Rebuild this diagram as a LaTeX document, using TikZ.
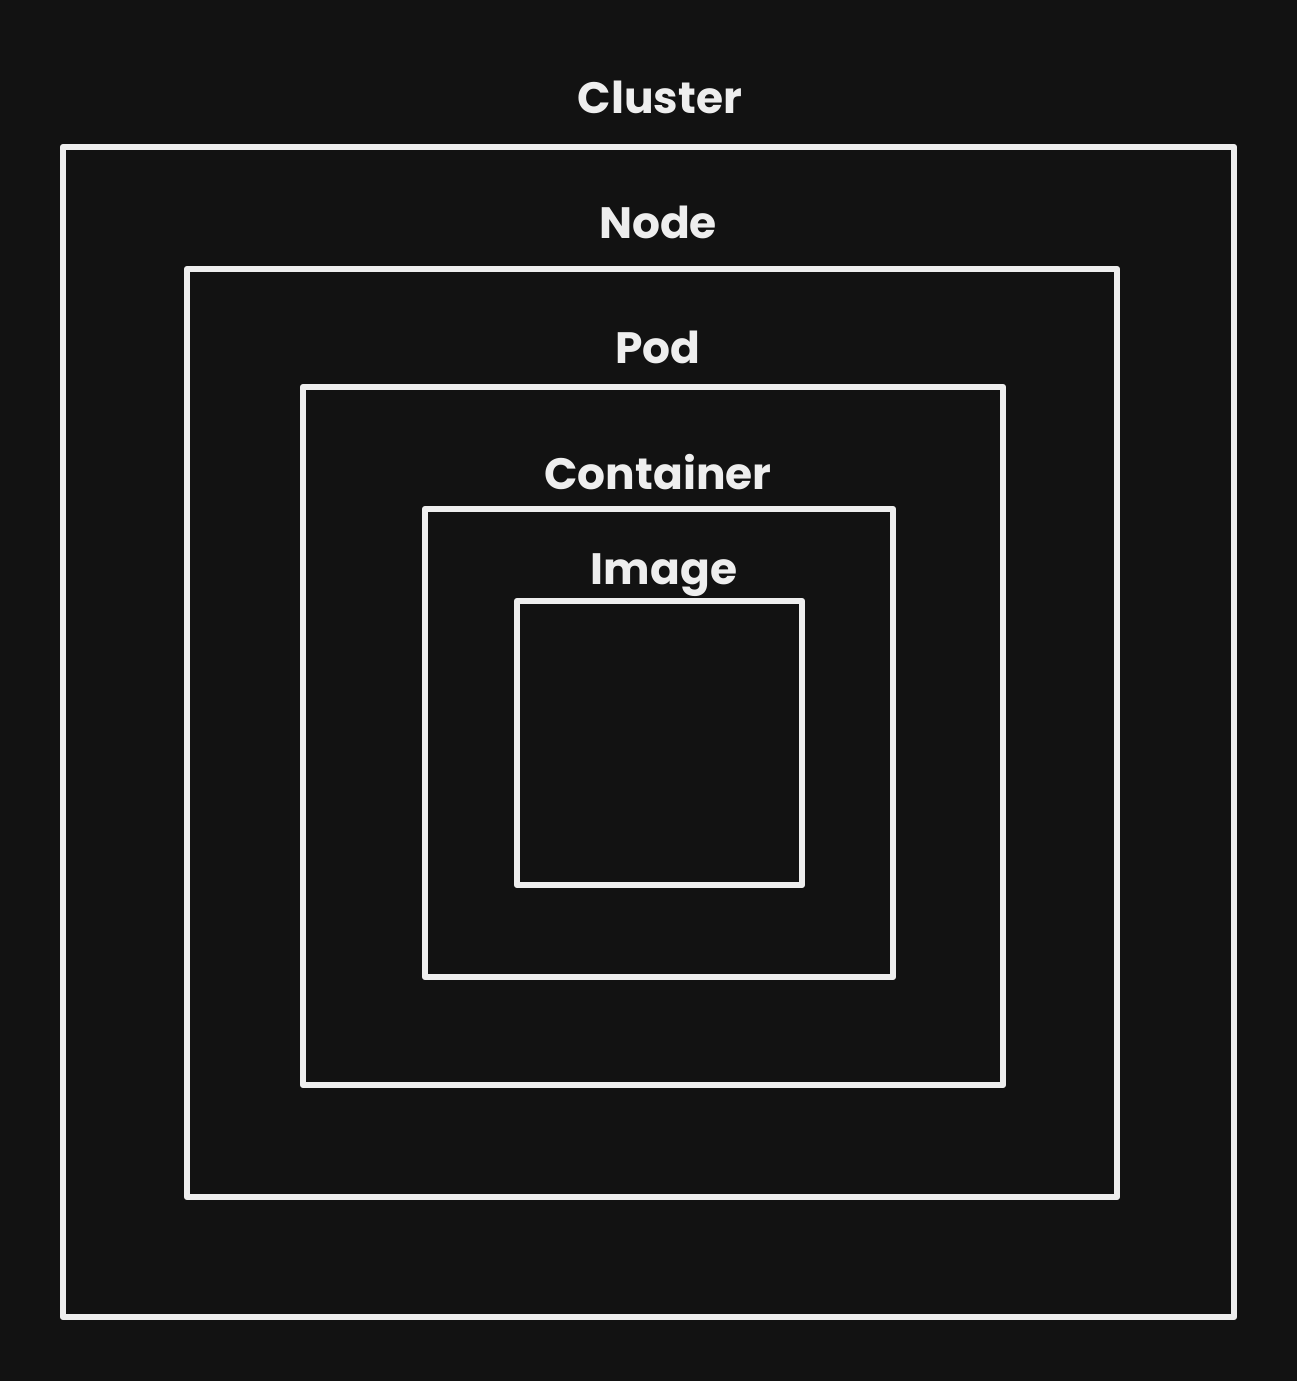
\documentclass[tikz,border=0pt]{standalone}
\usepackage{fontspec}
\setmainfont{Poppins}
\definecolor{bgdark}{HTML}{121212}
\definecolor{chalk}{HTML}{EEEEEE}
\tikzset{
    box/.style={draw=chalk, line width=3.6pt, line join=round},
    lbl/.style={text=chalk, font=\fontsize{25}{30}\selectfont\bfseries, inner sep=0pt}
}

\begin{document}
\begin{tikzpicture}[x=0.02cm, y=-0.02cm]
        \fill[bgdark] (0,0) rectangle (1297,1381);
        \useasboundingbox (0,0) rectangle (1297,1381);
        \draw[box] (63,147) rectangle (1234,1317);
        \node[lbl] (cluster) at (660,97) {Cluster};
        \draw[box] (187,269) rectangle (1117,1197);
        \node[lbl] (node) at (658,222) {Node};
        \draw[box] (303,387) rectangle (1003,1085);
        \node[lbl] (pod) at (658,347) {Pod};
        \draw[box] (425,509) rectangle (893,977);
        \node[lbl] (container) at (658,472) {Container};
        \draw[box] (517,601) rectangle (802,885);
        \node[lbl] (image) at (664,575) {Image};
    \end{tikzpicture}
\end{document}
